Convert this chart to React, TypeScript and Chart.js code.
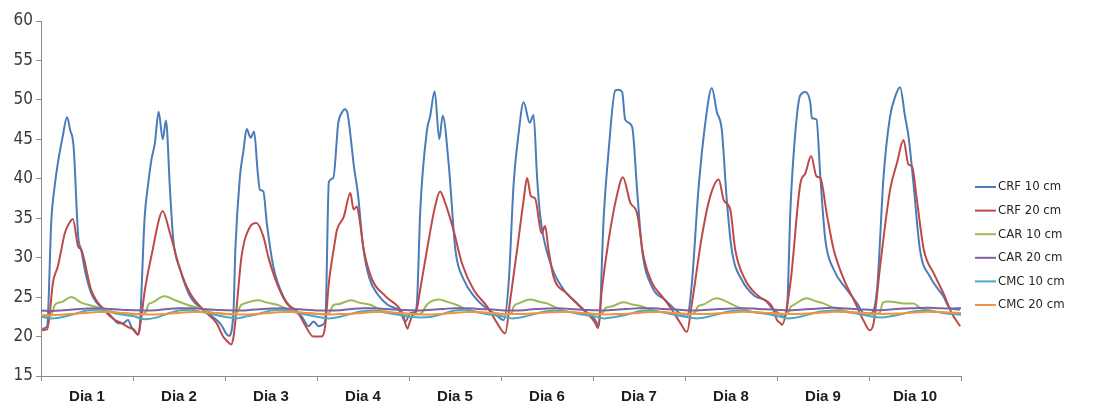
import { useEffect, useRef } from 'react';
import { Chart, registerables } from 'chart.js';

Chart.register(...registerables);

// ---------- data ----------
const dayLabels = ['Dia 1', 'Dia 2', 'Dia 3', 'Dia 4', 'Dia 5', 'Dia 6', 'Dia 7', 'Dia 8', 'Dia 9', 'Dia 10'];
const seriesLabels = ['CRF 10 cm', 'CRF 20 cm', 'CAR 10 cm', 'CAR 20 cm', 'CMC 10 cm', 'CMC 20 cm'];
const hoursPerDay = 24;
const yTicksMin = 15;
const yTicksMax = 60;
const yTickStep = 5;

// [hour since start, temperature °C]
const crf10: [number, number][] = [
  [0.3, 21.0], [1.6, 21.3], [2.7, 34.8], [3.5, 38.8], [4.4, 42.0], [5.6, 45.2], [6.8, 47.8], [7.6, 46.2], [8.5, 44.1], [9.7, 32.7], [10.5, 31.0], [11.5, 28.3], [13.1, 25.5], [14.5, 24.3], [16.6, 23.4], [18.5, 22.5], [20.1, 21.7], [21.5, 21.7], [22.7, 22.1], [23.6, 21.2],
  [25.3, 20.3], [25.75, 21.2], [27.05, 35.2], [28.0, 39.5], [28.8, 42.4], [29.7, 44.5], [30.7, 48.5], [31.75, 45.0], [32.6, 47.4], [33.65, 38.6], [34.5, 32.3], [36.3, 28.5], [38.9, 25.1], [42.3, 23.4], [45.8, 22.1], [47.0, 21.5],
  [48.4, 20.3], [49.0, 20.1], [50.2, 23.0], [50.7, 31.0], [51.9, 40.3], [52.8, 43.5], [53.65, 46.3], [54.7, 45.2], [55.6, 46.0], [56.5, 41.0], [57.1, 38.6], [58.0, 38.4], [58.9, 34.4], [60.6, 28.9], [63.2, 25.1], [65.8, 23.4], [68.1, 22.5], [69.8, 21.3], [71.1, 21.9],
  [72.45, 21.3], [73.5, 21.5], [74.2, 22.3], [75.1, 39.6], [76.25, 40.1], [77.55, 47.1], [78.4, 48.3], [79.3, 48.8], [80.0, 48.2], [81.05, 44.1], [81.65, 41.5], [82.7, 38.0], [84.0, 31.5], [85.6, 27.5], [87.9, 25.3], [90.5, 24.0], [93.65, 23.2], [95.05, 21.9],
  [96.3, 22.95], [97.6, 23.2], [98.1, 24.5], [98.95, 36.1], [100.7, 46.2], [101.5, 47.9], [102.7, 51.1], [103.9, 45.0], [104.8, 48.0], [106.4, 41.6], [108.1, 31.0], [110.3, 27.2], [113.0, 25.1], [115.6, 23.8], [118.2, 22.95],
  [120.7, 22.1], [122.0, 26.8], [123.3, 39.4], [124.6, 45.8], [125.9, 49.7], [127.5, 47.1], [128.5, 48.1], [129.4, 40.3], [130.25, 35.2], [132.9, 29.3], [136.4, 25.9], [139.0, 24.6], [141.6, 23.4], [143.5, 22.6],
  [144.6, 22.1], [145.5, 21.3], [146.8, 35.2], [148.1, 43.7], [149.8, 51.2], [150.6, 51.3], [151.6, 51.0], [152.4, 47.5], [154.2, 46.6], [155.5, 38.6], [156.8, 31.0], [159.4, 26.3], [162.9, 24.6], [165.5, 23.4], [167.3, 22.7],
  [168.5, 22.5], [169.8, 26.8], [171.5, 38.6], [173.3, 47.1], [175.0, 51.5], [176.3, 48.5], [177.6, 46.2], [178.9, 37.3], [180.2, 31.0], [182.8, 27.2], [186.3, 25.1], [188.9, 24.6], [191.1, 23.4],
  [192.4, 22.95], [193.7, 22.5], [194.6, 23.5], [195.5, 36.1], [196.7, 45.4], [198.0, 50.5], [199.4, 51.0], [200.7, 49.6], [201.1, 47.7], [202.3, 47.5], [203.3, 40.3], [204.6, 32.3], [206.8, 28.5], [210.3, 25.9], [212.9, 24.2], [214.7, 22.95],
  [216.3, 22.9], [218.1, 26.0], [219.8, 40.3], [221.5, 47.9], [222.9, 50.5], [224.1, 51.6], [225.4, 47.9], [226.3, 45.4], [227.6, 39.4], [229.3, 31.0], [231.9, 27.6], [235.4, 25.1], [237.1, 23.6], [239.7, 23.4],
];

const crf20: [number, number][] = [
  [0.3, 20.8], [1.6, 20.9], [2.2, 22.5], [3.1, 26.8], [4.4, 28.9], [5.3, 31.0], [6.2, 33.1], [7.3, 34.3], [8.3, 34.9], [9.7, 31.4], [10.5, 31.0], [13.1, 25.9], [16.6, 23.3], [19.0, 22.2], [20.95, 21.7], [22.7, 21.2],
  [24.4, 20.8], [25.3, 20.2], [25.9, 21.5], [27.1, 25.9], [29.3, 31.4], [30.6, 34.5], [31.7, 35.9], [33.65, 33.1], [36.3, 28.5], [38.9, 25.5], [42.3, 23.4], [45.8, 21.7], [47.5, 20.0],
  [48.6, 19.4], [49.6, 19.0], [50.3, 20.2], [51.05, 23.8], [52.3, 30.1], [54.5, 33.9], [56.2, 34.4], [58.0, 32.7], [59.3, 30.1], [61.5, 26.8], [64.1, 24.2], [66.8, 23.2], [68.6, 21.7], [71.05, 20.0],
  [73.2, 20.0], [74.1, 21.2], [75.1, 26.8], [76.6, 31.8], [77.2, 33.5], [79.0, 35.2], [80.7, 38.2], [81.55, 36.1], [82.4, 36.5], [82.9, 35.5], [84.2, 31.0], [86.4, 27.2], [89.9, 25.1], [94.3, 22.95], [95.6, 21.0],
  [96.0, 21.5], [96.8, 22.6], [97.9, 23.2], [98.9, 25.9], [100.7, 31.0], [102.8, 36.5], [104.1, 38.4], [105.4, 37.0], [107.6, 33.5], [109.8, 29.3], [112.9, 25.9], [116.4, 23.8], [119.0, 21.7],
  [121.1, 20.4], [122.4, 24.6], [124.2, 31.0], [125.9, 37.3], [126.8, 40.1], [127.8, 37.8], [128.9, 37.5], [130.6, 33.1], [131.5, 34.0], [132.4, 31.0], [133.7, 27.6], [137.1, 25.5], [140.6, 23.8], [143.7, 22.3], [144.6, 21.7],
  [145.3, 21.05], [146.3, 25.9], [148.1, 32.3], [150.2, 37.8], [151.8, 40.2], [153.7, 37.0], [155.5, 35.6], [157.2, 30.1], [159.4, 26.8], [162.0, 25.1], [164.6, 23.4], [166.8, 21.7],
  [168.5, 20.6], [169.8, 24.2], [172.4, 32.7], [174.6, 37.8], [176.8, 39.9], [178.1, 37.3], [179.8, 36.1], [181.1, 31.0], [183.7, 27.2], [187.2, 25.1], [190.7, 23.8], [192.0, 22.1], [192.9, 21.7],
  [193.3, 21.5], [195.5, 26.8], [198.1, 39.4], [199.4, 40.7], [200.9, 42.9], [202.3, 40.3], [203.3, 40.1], [205.1, 35.2], [206.8, 31.0], [209.5, 27.2], [212.1, 24.6], [214.7, 21.9], [216.2, 20.8],
  [217.2, 21.7], [218.9, 28.9], [221.5, 38.6], [223.3, 42.0], [225.0, 44.9], [226.3, 41.8], [227.2, 41.6], [228.5, 37.3], [230.3, 31.0], [232.9, 28.0], [235.4, 25.5], [237.6, 22.95], [239.8, 21.3],
];

const car10: [number, number][] = [
  [0.3, 22.6], [2.6, 22.7], [3.6, 24.0], [4.6, 24.3], [5.5, 24.4], [7.9, 25.0], [10.5, 24.3], [14.0, 23.8], [16.6, 23.4], [20.0, 23.0], [23.0, 22.9],
  [25.5, 22.8], [27.2, 23.0], [28.1, 24.1], [29.0, 24.3], [32.2, 25.1], [35.0, 24.6], [38.3, 24.0], [42.6, 23.4], [45.0, 23.0], [47.5, 22.9],
  [49.5, 22.8], [51.0, 23.0], [52.2, 24.0], [53.1, 24.2], [56.6, 24.6], [59.0, 24.3], [61.8, 24.0], [64.5, 23.4], [68.0, 23.0], [71.5, 22.9],
  [73.5, 22.8], [75.0, 22.9], [76.3, 24.0], [77.5, 24.1], [80.9, 24.6], [83.0, 24.3], [86.1, 24.0], [88.5, 23.4], [92.0, 23.0], [95.5, 22.9],
  [97.5, 22.8], [99.4, 23.0], [100.3, 23.8], [101.0, 24.2], [103.8, 24.7], [106.0, 24.4], [108.5, 24.0], [111.0, 23.4], [115.0, 23.0], [119.5, 22.9],
  [121.0, 22.8], [122.8, 23.0], [123.3, 23.8], [124.6, 24.2], [127.6, 24.7], [130.0, 24.4], [132.0, 24.2], [134.6, 23.6], [138.0, 23.1], [143.0, 22.9],
  [145.0, 22.8], [146.5, 23.0], [147.2, 23.6], [148.8, 23.8], [152.0, 24.35], [154.0, 24.1], [156.8, 23.8], [159.0, 23.4], [163.0, 23.0], [167.0, 22.9],
  [169.0, 22.8], [170.5, 23.0], [171.5, 23.9], [172.4, 24.0], [176.3, 24.85], [178.5, 24.5], [181.1, 23.9], [183.5, 23.4], [187.0, 23.0], [191.0, 22.9],
  [193.0, 22.8], [194.8, 23.0], [195.6, 23.8], [196.3, 24.0], [199.8, 24.85], [202.0, 24.5], [204.1, 24.2], [207.0, 23.6], [211.0, 23.1], [215.0, 22.9],
  [217.0, 22.8], [218.8, 23.0], [219.6, 24.3], [221.1, 24.45], [223.0, 24.35], [225.0, 24.2], [227.6, 24.2], [229.4, 23.6], [232.0, 23.3], [236.0, 23.0], [240.0, 22.8],
];

// sampled every flatStepHours hours from hour 0
const flatStepHours = 3;
const car20 = [
  23.3, 23.25, 23.35, 23.45, 23.55, 23.6, 23.5, 23.4,
  23.35, 23.3, 23.35, 23.5, 23.6, 23.6, 23.5, 23.4,
  23.35, 23.3, 23.35, 23.45, 23.55, 23.6, 23.5, 23.4,
  23.3, 23.3, 23.35, 23.5, 23.6, 23.6, 23.5, 23.4,
  23.35, 23.3, 23.4, 23.5, 23.6, 23.6, 23.5, 23.45,
  23.35, 23.3, 23.35, 23.5, 23.55, 23.6, 23.5, 23.4,
  23.35, 23.3, 23.4, 23.5, 23.6, 23.6, 23.5, 23.45,
  23.35, 23.3, 23.4, 23.5, 23.55, 23.6, 23.55, 23.45,
  23.4, 23.3, 23.4, 23.5, 23.6, 23.65, 23.55, 23.45,
  23.4, 23.35, 23.45, 23.55, 23.6, 23.65, 23.6, 23.55,
  23.6,
];
const cmc10 = [
  22.5, 22.3, 22.5, 22.9, 23.3, 23.4, 23.1, 22.8,
  22.6, 22.2, 22.4, 22.9, 23.3, 23.4, 23.1, 22.8,
  22.5, 22.3, 22.6, 22.9, 23.3, 23.4, 23.1, 22.8,
  22.5, 22.3, 22.5, 22.9, 23.2, 23.3, 23.0, 22.8,
  22.5, 22.4, 22.5, 22.9, 23.3, 23.4, 23.1, 22.8,
  22.6, 22.3, 22.5, 22.9, 23.2, 23.3, 23.1, 22.8,
  22.6, 22.3, 22.5, 22.8, 23.2, 23.3, 23.1, 22.8,
  22.5, 22.3, 22.5, 22.9, 23.2, 23.3, 23.1, 22.9,
  22.6, 22.3, 22.5, 22.9, 23.2, 23.3, 23.1, 22.9,
  22.6, 22.4, 22.6, 22.9, 23.2, 23.3, 23.1, 22.9,
  22.8,
];
const cmc20 = [
  22.7, 22.7, 22.8, 22.9, 23.0, 23.1, 23.1, 23.0,
  22.9, 22.8, 22.8, 22.9, 23.0, 23.1, 23.1, 23.0,
  22.9, 22.8, 22.8, 22.9, 23.0, 23.1, 23.1, 23.0,
  22.9, 22.8, 22.85, 22.9, 23.0, 23.1, 23.1, 23.0,
  22.9, 22.8, 22.8, 22.9, 23.0, 23.1, 23.1, 23.0,
  22.9, 22.85, 22.85, 22.95, 23.05, 23.1, 23.1, 23.0,
  22.9, 22.8, 22.85, 22.9, 23.0, 23.1, 23.1, 23.0,
  22.9, 22.85, 22.85, 22.95, 23.05, 23.15, 23.1, 23.0,
  22.95, 22.85, 22.85, 22.95, 23.05, 23.15, 23.1, 23.05,
  22.95, 22.85, 22.9, 22.95, 23.05, 23.15, 23.1, 23.05,
  23.0,
];

// ---------- styles ----------
const seriesColors = ['#4a7cb9', '#bd4a47', '#9aba57', '#7e62a0', '#48aac4', '#f5923f'];
const axisColor = '#8a8a8a';
const narrowFont = "'Liberation Sans Narrow', 'DejaVu Sans Condensed', 'Liberation Sans', Arial, sans-serif";

const sideLegend = {
  id: 'sideLegend',
  afterDraw(chart: any) {
    const { ctx, chartArea } = chart;
    const x0 = chartArea.right + 14;
    const lineLen = 21;
    const top = 187;
    const gap = 23.6;
    ctx.save();
    ctx.font = `13px ${narrowFont}`;
    ctx.textBaseline = 'middle';
    ctx.textAlign = 'left';
    chart.data.datasets.forEach((ds: any, i: number) => {
      const y = top + i * gap;
      ctx.strokeStyle = ds.borderColor;
      ctx.lineWidth = 2;
      ctx.beginPath();
      ctx.moveTo(x0, y);
      ctx.lineTo(x0 + lineLen, y);
      ctx.stroke();
      ctx.fillStyle = '#262626';
      ctx.fillText(ds.label, x0 + lineLen + 2, y);
    });
    ctx.restore();
  },
};

export default function App() {
  const canvasRef = useRef<HTMLCanvasElement>(null);

  useEffect(() => {
    document.body.style.margin = '0';
    const pairs = (arr: [number, number][]) => arr.map(([x, y]) => ({ x, y }));
    const stepped = (arr: number[]) => arr.map((y, i) => ({ x: i * flatStepHours, y }));
    const seriesData = [pairs(crf10), pairs(crf20), pairs(car10), stepped(car20), stepped(cmc10), stepped(cmc20)];
    const totalHours = hoursPerDay * dayLabels.length;

    const chart = new Chart(canvasRef.current as HTMLCanvasElement, {
      type: 'line',
      data: {
        datasets: seriesData.map((d, i) => ({
          label: seriesLabels[i],
          data: d,
          borderColor: seriesColors[i],
          backgroundColor: seriesColors[i],
          borderWidth: 2,
          pointRadius: 0,
          fill: false,
          cubicInterpolationMode: 'monotone' as const,
          order: seriesData.length - i,
        })),
      },
      options: {
        animation: false,
        responsive: true,
        maintainAspectRatio: false,
        layout: { padding: { left: 0, right: 141, top: 21, bottom: 0 } },
        plugins: { legend: { display: false }, tooltip: { enabled: false } },
        scales: {
          x: {
            type: 'linear',
            min: 0,
            max: totalHours,
            afterFit: (s: any) => { s.height = 33; },
            border: { display: true, color: axisColor, width: 1 },
            grid: {
              drawOnChartArea: false,
              drawTicks: true,
              tickLength: 5,
              tickColor: (c: any) => (c.tick && c.tick.value % hoursPerDay === 0 ? axisColor : 'rgba(0,0,0,0)'),
            },
            ticks: {
              stepSize: hoursPerDay / 2,
              autoSkip: false,
              maxRotation: 0,
              padding: 7,
              color: '#1e1e1e',
              font: { family: "'Liberation Sans', Arial, sans-serif", size: 15, weight: 'bold' },
              callback: (v: any) => (v % hoursPerDay === hoursPerDay / 2 ? dayLabels[Math.floor(v / hoursPerDay)] : ''),
            },
          },
          y: {
            min: yTicksMin,
            max: yTicksMax,
            afterFit: (s: any) => { s.width = 41; },
            border: { display: true, color: axisColor, width: 1 },
            grid: { drawOnChartArea: false, drawTicks: true, tickLength: 5, tickColor: axisColor },
            ticks: {
              stepSize: yTickStep,
              padding: 3,
              color: '#3a3a3a',
              font: { family: narrowFont, size: 17 },
            },
          },
        },
      },
      plugins: [sideLegend],
    } as any);

    return () => chart.destroy();
  }, []);

  return (
    <div style={{ position: 'relative', width: 1102, height: 409 }}>
      <canvas ref={canvasRef} />
    </div>
  );
}
